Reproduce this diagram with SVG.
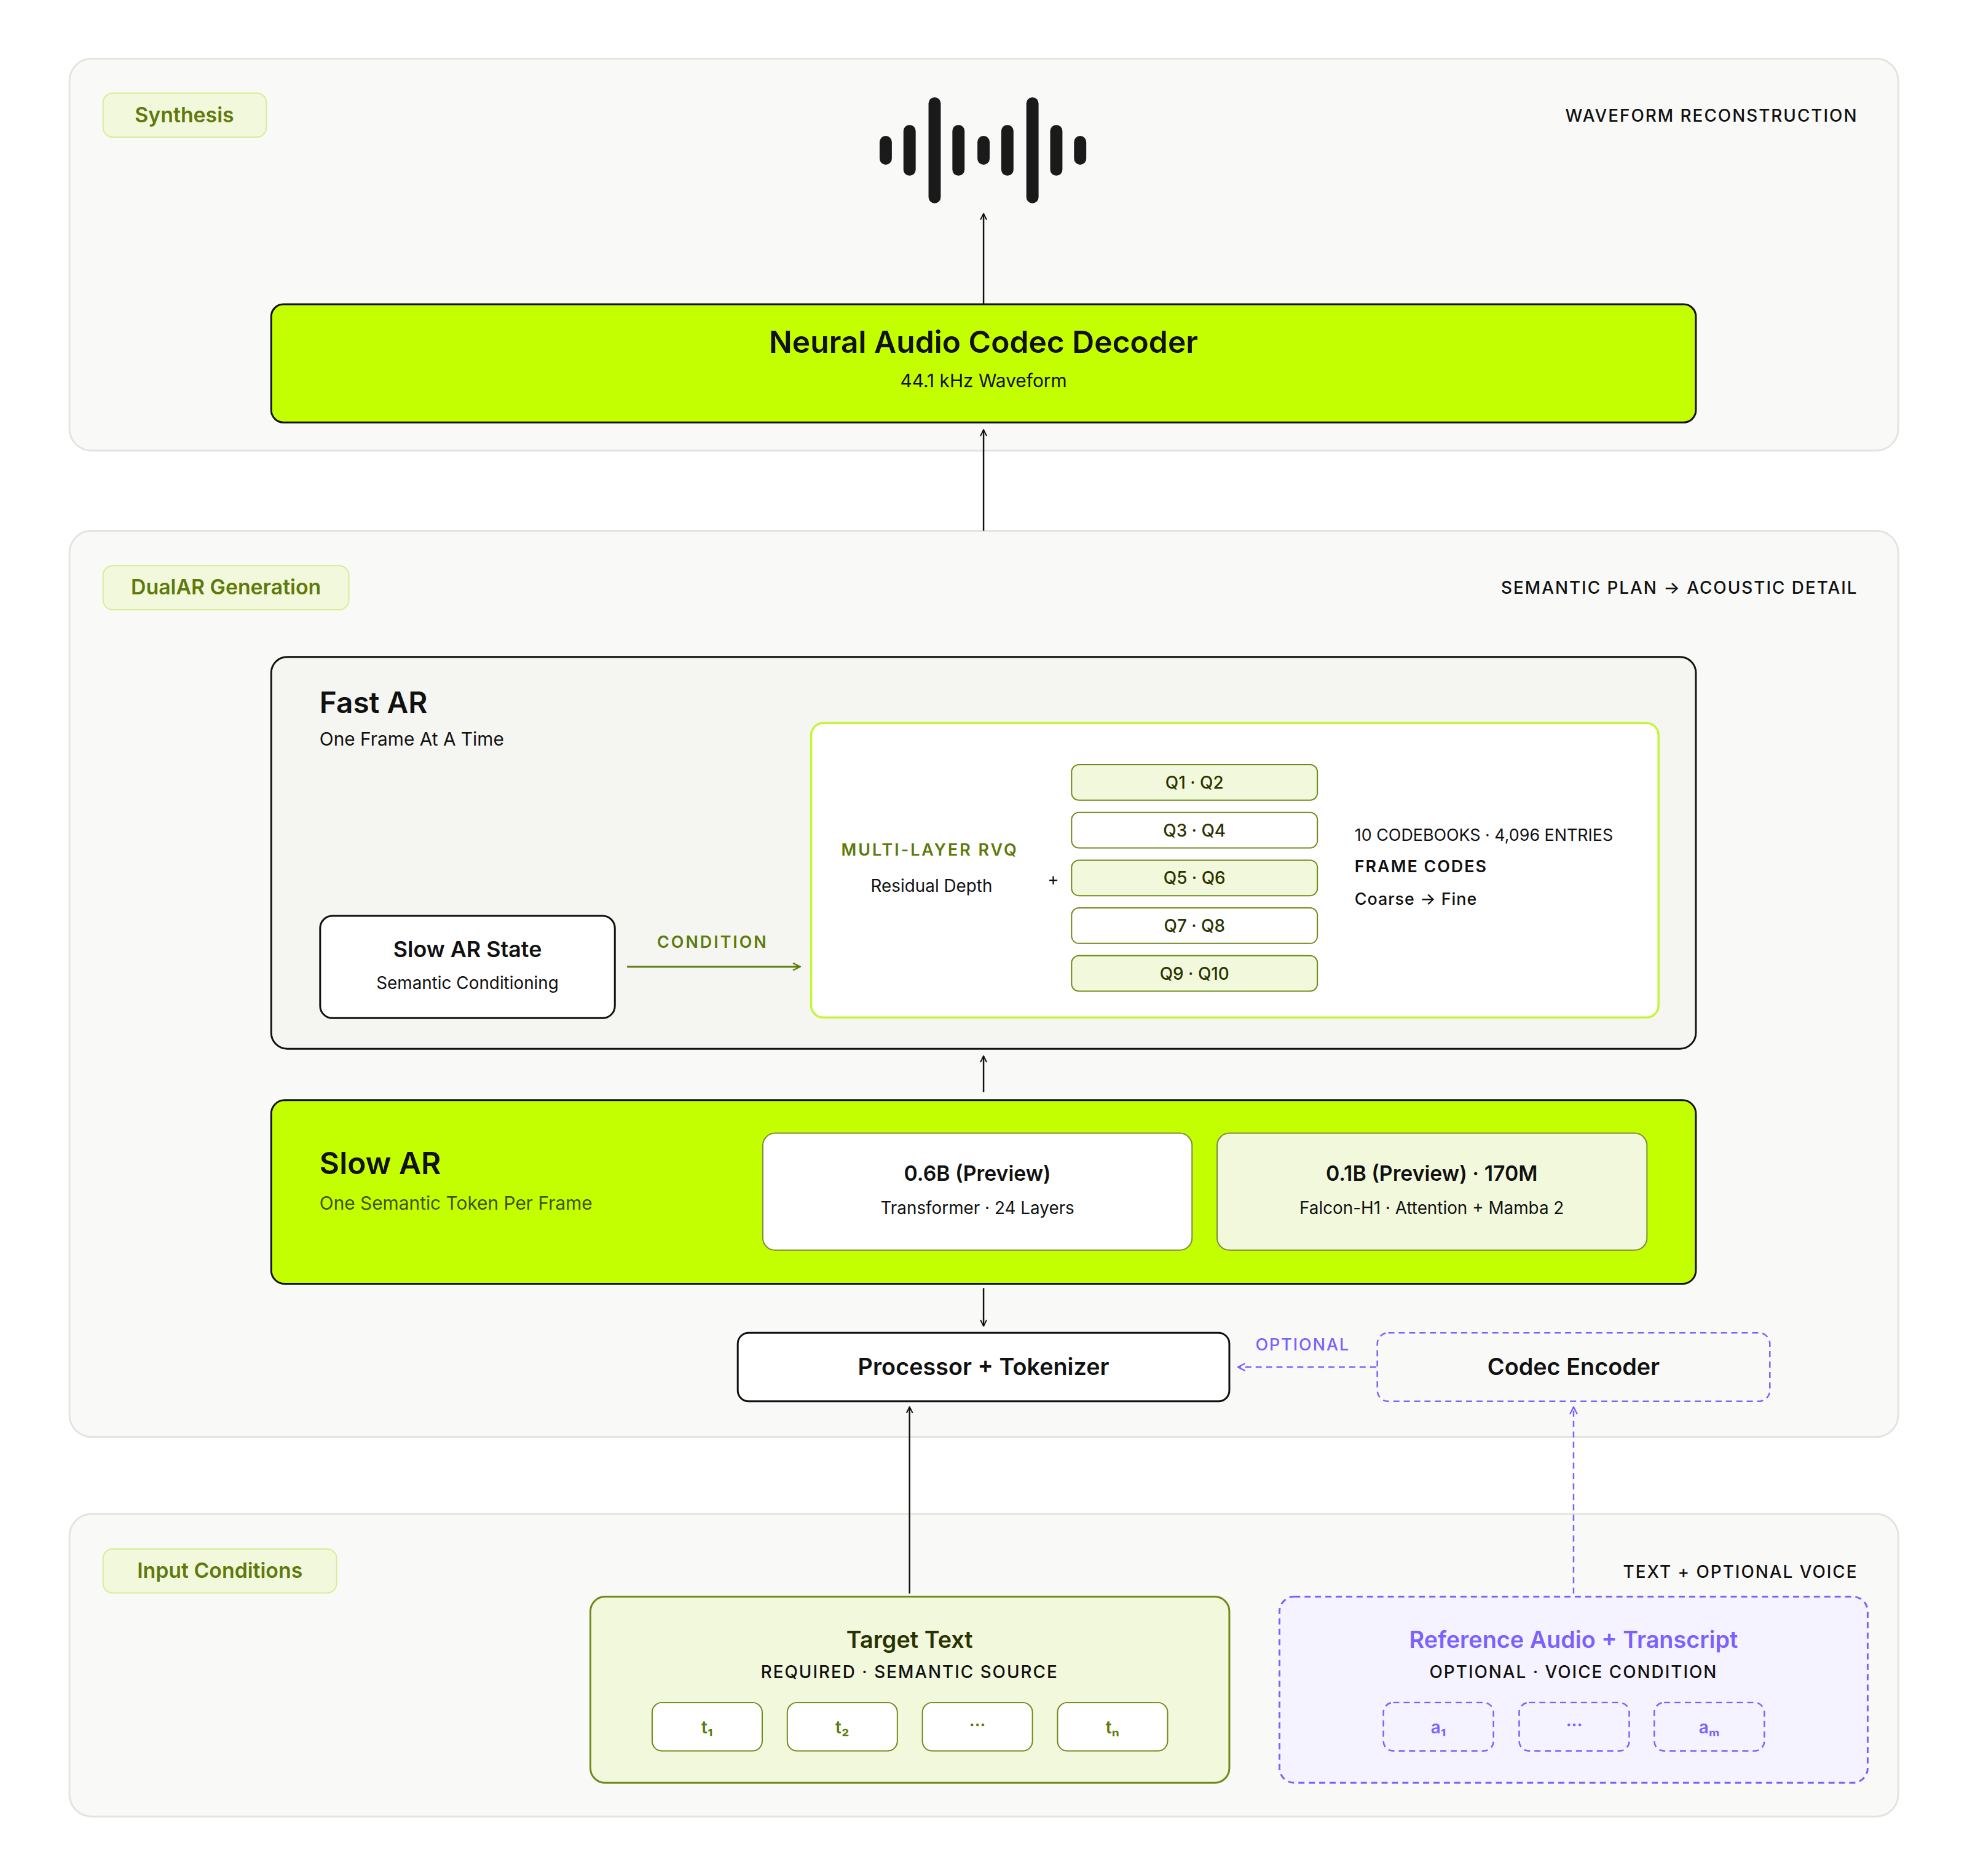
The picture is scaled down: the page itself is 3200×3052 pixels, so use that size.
<svg xmlns="http://www.w3.org/2000/svg" width="3200" height="3052" viewBox="0 0 3200 3052">
<defs>
<marker id="ah" viewBox="0 0 12 12" refX="11" refY="6" markerWidth="12" markerHeight="12" markerUnits="userSpaceOnUse" orient="auto"><path d="M1 1 L11 6 L1 11" fill="none" stroke="#111" stroke-width="2"/></marker>
<marker id="ahg" viewBox="0 0 12 12" refX="11" refY="6" markerWidth="14" markerHeight="14" markerUnits="userSpaceOnUse" orient="auto"><path d="M1 1 L11 6 L1 11" fill="none" stroke="#5E7A0A" stroke-width="2"/></marker>
<marker id="ahp" viewBox="0 0 12 12" refX="11" refY="6" markerWidth="14" markerHeight="14" markerUnits="userSpaceOnUse" orient="auto"><path d="M1 1 L11 6 L1 11" fill="none" stroke="#7B61FF" stroke-width="2"/></marker>
</defs>
<style>
text{font-family:Inter,"Liberation Sans",sans-serif;text-anchor:middle;fill:#111}
.panel{fill:#F9F9F7;stroke:#E4E4DF;stroke-width:3}
.tag{fill:#F2F8DC;stroke:#D6EC98;stroke-width:2}
.tagt{font-size:34px;font-weight:600;fill:#5E7A0A}
.cap{font-size:28px;letter-spacing:2px;text-anchor:end;font-weight:500}
.lime{fill:#C4FF00;stroke:#111;stroke-width:3}
.wh{fill:#fff;stroke:#111;stroke-width:3}
.q{stroke:#6F8A1A;stroke-width:2}
.qt{font-size:28px;font-weight:500;fill:#2A3300}
.big{font-size:48px;font-weight:600;text-anchor:start}
.t1{font-size:36px;font-weight:600}
.sub{font-size:28px}
.bar{fill:#1A1A1A}
.dash{stroke:#7B61FF;stroke-width:2.5;stroke-dasharray:10 7}
.tok{fill:#fff;stroke:#6F8A1A;stroke-width:2}
.tokt{font-size:28px;font-weight:600;fill:#5E7A0A}
.ptok{fill:#F5F3FF;stroke:#7B61FF;stroke-width:2.5;stroke-dasharray:10 7}
.ptokt{font-size:28px;font-weight:600;fill:#7B61FF}
</style>
<g transform="translate(0.6,0) scale(0.9947,0.996)">
<g id="synthesis">
<rect class="panel" x="113" y="96" width="2991" height="640" rx="36"/>
<rect class="tag" x="168" y="152" width="267" height="72" rx="16"/>
<text class="tagt" x="301" y="200">Synthesis</text>
<text class="cap" x="3038" y="199">WAVEFORM RECONSTRUCTION</text>
</g>
<g id="waveform">
<rect class="bar" x="1438" y="222" width="20" height="47" rx="10"/>
<rect class="bar" x="1477" y="204" width="20" height="83" rx="10"/>
<rect class="bar" x="1518" y="159" width="20" height="173" rx="10"/>
<rect class="bar" x="1557" y="204" width="20" height="83" rx="10"/>
<rect class="bar" x="1598" y="222" width="20" height="47" rx="10"/>
<rect class="bar" x="1637" y="204" width="20" height="83" rx="10"/>
<rect class="bar" x="1678" y="159" width="20" height="173" rx="10"/>
<rect class="bar" x="1717" y="204" width="20" height="83" rx="10"/>
<rect class="bar" x="1756" y="222" width="20" height="47" rx="10"/>
</g>
<g id="decoder">
<rect class="lime" x="443" y="497" width="2330" height="193" rx="20"/>
<text x="1608" y="576" style="font-size:50px;font-weight:600">Neural Audio Codec Decoder</text>
<text class="sub" x="1608" y="633" style="font-size:30px">44.1 kHz Waveform</text>
</g>

<g id="dualar">
<rect class="panel" x="113" y="867" width="2991" height="1480" rx="36"/>
<rect class="tag" x="168" y="924" width="402" height="72" rx="16"/>
<text class="tagt" x="369" y="971">DualAR Generation</text>
<text class="cap" x="3038" y="970">SEMANTIC PLAN → ACOUSTIC DETAIL</text>
</g>
<g id="fastar">
<rect x="443" y="1073" width="2330" height="640" rx="26" fill="#F5F5F1" stroke="#111" stroke-width="3"/>
<text class="big" x="522" y="1165">Fast AR</text>
<text class="sub" x="522" y="1218" style="text-anchor:start;font-size:30px">One Frame At A Time</text>
</g>
<g id="rvq">
<rect x="1326" y="1181" width="1386" height="481" rx="20" fill="#fff" stroke="#C4F53A" stroke-width="3.5"/>
<text x="1520" y="1398" style="font-size:27px;font-weight:600;letter-spacing:3px;fill:#5E7A0A">MULTI-LAYER RVQ</text>
<text x="1523" y="1457" style="font-size:28px">Residual Depth</text>
<text x="1722" y="1446" style="font-size:28px">+</text>
<rect class="q" x="1752" y="1249" width="402" height="58" rx="12" fill="#F2F8DC"/>
<text class="qt" x="1953" y="1288">Q1 · Q2</text>
<rect class="q" x="1752" y="1327" width="402" height="58" rx="12" fill="#fff"/>
<text class="qt" x="1953" y="1366">Q3 · Q4</text>
<rect class="q" x="1752" y="1405" width="402" height="58" rx="12" fill="#F2F8DC"/>
<text class="qt" x="1953" y="1444">Q5 · Q6</text>
<rect class="q" x="1752" y="1483" width="402" height="58" rx="12" fill="#fff"/>
<text class="qt" x="1953" y="1522">Q7 · Q8</text>
<rect class="q" x="1752" y="1561" width="402" height="58" rx="12" fill="#F2F8DC"/>
<text class="qt" x="1953" y="1600">Q9 · Q10</text>
<text x="2215" y="1373" style="text-anchor:start;font-size:27px">10 CODEBOOKS · 4,096 ENTRIES</text>
<text x="2215" y="1425" style="text-anchor:start;font-size:27px;font-weight:600;letter-spacing:2px">FRAME CODES</text>
<text x="2215" y="1478" style="text-anchor:start;font-size:27px;font-weight:500;letter-spacing:1px">Coarse → Fine</text>
</g>
<g id="slowarstate">
<rect class="wh" x="523" y="1496" width="482" height="167" rx="20"/>
<text class="t1" x="764" y="1563">Slow AR State</text>
<text class="sub" x="764" y="1615">Semantic Conditioning</text>
</g>
<g id="slowar">
<rect class="lime" x="443" y="1797" width="2330" height="300" rx="22"/>
<text class="big" x="522" y="1918" style="font-size:50px">Slow AR</text>
<text x="522" y="1976" style="text-anchor:start;font-size:30px;fill:#3F5200">One Semantic Token Per Frame</text>
<rect x="1247" y="1851" width="702" height="191" rx="20" fill="#fff" stroke="#7A8C3A" stroke-width="2"/>
<text x="1598" y="1929" style="font-size:34px;font-weight:600">0.6B (Preview)</text>
<text class="sub" x="1598" y="1983">Transformer · 24 Layers</text>
<rect x="1990" y="1851" width="703" height="191" rx="20" fill="#F2F8DC" stroke="#7A8C3A" stroke-width="2"/>
<text x="2341" y="1929" style="font-size:34px;font-weight:600">0.1B (Preview) · 170M</text>
<text class="sub" x="2341" y="1983">Falcon-H1 · Attention + Mamba 2</text>
</g>
<g id="processor">
<rect class="wh" x="1206" y="2177" width="804" height="112" rx="18"/>
<text x="1608" y="2246" style="font-size:38px;font-weight:600">Processor + Tokenizer</text>
</g>
<g id="codecencoder">
<rect x="2252" y="2177" width="642" height="112" rx="18" fill="#F9F9F7" class="dash"/>
<text x="2573" y="2246" style="font-size:38px;font-weight:600">Codec Encoder</text>
</g>

<g id="inputs">
<rect class="panel" x="113" y="2473" width="2991" height="494" rx="36"/>
<rect class="tag" x="168" y="2530" width="382" height="72" rx="16"/>
<text class="tagt" x="359" y="2577">Input Conditions</text>
<text class="cap" x="3038" y="2577">TEXT + OPTIONAL VOICE</text>
</g>
<g id="targettext">
<rect x="965" y="2608" width="1045" height="304" rx="24" fill="#F2F8DC" stroke="#6F8A1A" stroke-width="3"/>
<text x="1487" y="2692" style="font-size:38px;font-weight:600;fill:#2A3300">Target Text</text>
<text x="1487" y="2741" style="font-size:28px;font-weight:500;letter-spacing:2px">REQUIRED · SEMANTIC SOURCE</text>
<rect class="tok" x="1066" y="2781" width="180" height="79" rx="16"/><text class="tokt" x="1156" y="2831">t₁</text>
<rect class="tok" x="1287" y="2781" width="180" height="79" rx="16"/><text class="tokt" x="1377" y="2831">t₂</text>
<rect class="tok" x="1508" y="2781" width="180" height="79" rx="16"/><text class="tokt" x="1598" y="2827">···</text>
<rect class="tok" x="1729" y="2781" width="180" height="79" rx="16"/><text class="tokt" x="1819" y="2831">tₙ</text>
</g>
<g id="refaudio">
<rect x="2092" y="2608" width="962" height="304" rx="24" fill="#F5F3FF" class="dash" style="stroke-width:3"/>
<text x="2573" y="2692" style="font-size:38px;font-weight:600;fill:#7B61FF">Reference Audio + Transcript</text>
<text x="2573" y="2741" style="font-size:28px;font-weight:500;letter-spacing:2px">OPTIONAL · VOICE CONDITION</text>
<rect class="ptok" x="2262" y="2781" width="180" height="79" rx="16"/><text class="ptokt" x="2352" y="2831">a₁</text>
<rect class="ptok" x="2484" y="2781" width="180" height="79" rx="16"/><text class="ptokt" x="2574" y="2827">···</text>
<rect class="ptok" x="2705" y="2781" width="180" height="79" rx="16"/><text class="ptokt" x="2795" y="2831">aₘ</text>
</g>

<g id="connectors" fill="none">
<line x1="1608" y1="497" x2="1608" y2="349" stroke="#111" stroke-width="2.5" marker-end="url(#ah)"/>
<line x1="1608" y1="867" x2="1608" y2="702" stroke="#111" stroke-width="2.5" marker-end="url(#ah)"/>
<line x1="1608" y1="1784" x2="1608" y2="1725" stroke="#111" stroke-width="2.5" marker-end="url(#ah)"/>
<line x1="1608" y1="2104" x2="1608" y2="2166" stroke="#111" stroke-width="2.5" marker-end="url(#ah)"/>
<line x1="1025" y1="1579" x2="1308" y2="1579" stroke="#5E7A0A" stroke-width="3" marker-end="url(#ahg)"/>
<text x="1165" y="1548" style="font-size:27px;font-weight:600;letter-spacing:3px;fill:#5E7A0A">CONDITION</text>
<line x1="2250" y1="2233" x2="2024" y2="2233" class="dash" marker-end="url(#ahp)"/>
<text x="2130" y="2206" style="font-size:27px;font-weight:500;letter-spacing:2px;fill:#7B61FF">OPTIONAL</text>
<line x1="1487" y1="2603" x2="1487" y2="2298" stroke="#111" stroke-width="2.5" marker-end="url(#ah)"/>
<line x1="2573" y1="2603" x2="2573" y2="2298" class="dash" marker-end="url(#ahp)"/>
</g>
</g>
</svg>
